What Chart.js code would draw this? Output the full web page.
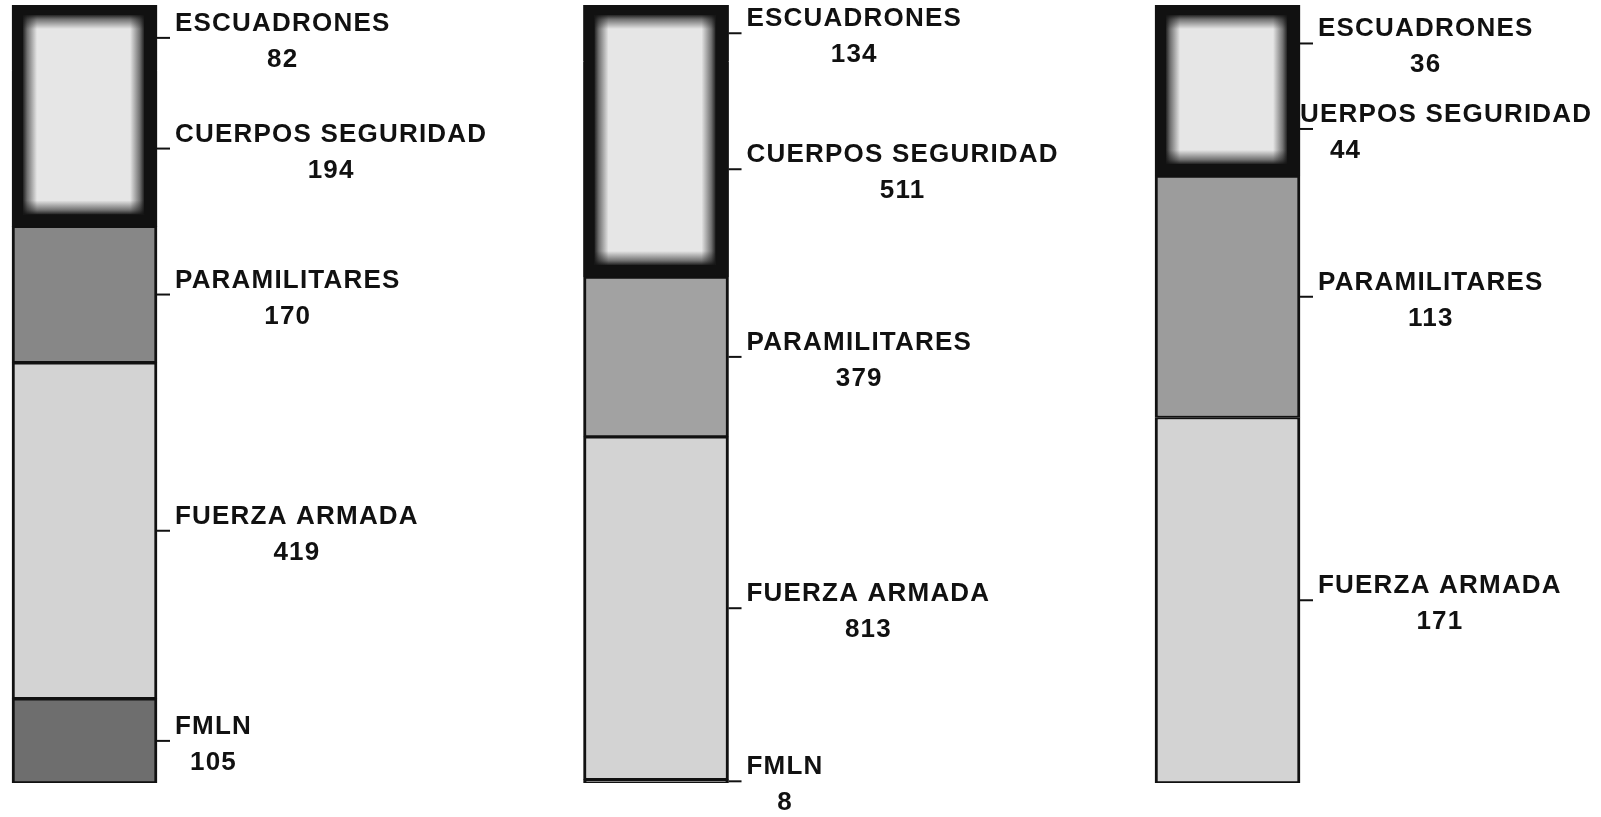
<!DOCTYPE html>
<html>
<head>
<meta charset="utf-8">
<title>Violaciones por responsable</title>
<script src="https://cdn.jsdelivr.net/npm/chart.js@4.4.1/dist/chart.umd.min.js"></script>
<style>
  html, body { margin: 0; padding: 0; background: #fff; }
  #wrap { position: relative; width: 1601px; height: 817px; }
</style>
</head>
<body>
<div id="wrap"><canvas id="stackChart"></canvas></div>
<script>
// one column per period, stacked bottom -> top
const columns = [0, 1, 2];
const seriesNames = ['FMLN', 'FUERZA ARMADA', 'PARAMILITARES', 'CUERPOS SEGURIDAD', 'ESCUADRONES'];
const fmln = [105, 8, null];
const fuerzaArmada = [419, 813, 171];
const paramilitares = [170, 379, 113];
const cuerposSeguridad = [194, 511, 44];
const escuadrones = [82, 134, 36];

const series = [fmln, fuerzaArmada, paramilitares, cuerposSeguridad, escuadrones];
const totals = columns.map(i => series.reduce((s, arr) => s + (arr[i] || 0), 0));
const asPoints = arr => arr.map((v, i) => ({ x: columns[i], y: v == null ? null : v / totals[i] * 100 }));

const INK = '#111';
const BOX_FILL = '#e6e6e6';
const thin = { top: 2, left: 3, right: 3, bottom: 2 };

const fills = [
    '#6e6e6e',
    '#d3d3d3',
    ['#878787', '#a2a2a2', '#9c9c9c'],
    BOX_FILL,
    BOX_FILL
];
const borders = [
    thin,
    thin,
    thin,
    { top: 0, left: 11, right: 13, bottom: 12 },
    { top: 10, left: 11, right: 13, bottom: 0 }
];

// labels sit behind the bars (third column's CUERPOS label is partly hidden)
const labelPlugin = {
    id: 'segmentLabels',
    beforeDatasetsDraw(chart) {
        const ctx = chart.ctx;
        ctx.save();
        ctx.font = 'bold 26px "Liberation Sans", Arial, sans-serif';
        ctx.letterSpacing = '1.2px';
        ctx.fillStyle = INK;
        ctx.strokeStyle = INK;
        ctx.lineWidth = 2;
        ctx.textBaseline = 'alphabetic';
        series.forEach((arr, d) => {
            const meta = chart.getDatasetMeta(d);
            meta.data.forEach((bar, i) => {
                if (arr[i] == null) return;
                const right = bar.x + bar.width / 2;
                const mid = (bar.y + bar.base) / 2;
                ctx.beginPath();
                ctx.moveTo(right, mid);
                ctx.lineTo(right + 13, mid);
                ctx.stroke();

                const name = seriesNames[d];
                const w = ctx.measureText(name).width - 1.2;
                let nx = right + 18;
                let cx = nx + w / 2;
                if (i === 2 && d === 3) { nx = right - 20; cx = right + 45; }
                ctx.textAlign = 'left';
                ctx.fillText(name, nx, mid - 7);
                ctx.textAlign = 'center';
                ctx.fillText(String(arr[i]), cx + 0.6, mid + 29);
            });
        });
        ctx.restore();
    }
};

// soft dark rim inside the CUERPOS + ESCUADRONES box
function shade(ctx, x0, y0, x1, y1, rx, ry, rw, rh) {
    const grad = ctx.createLinearGradient(x0, y0, x1, y1);
    grad.addColorStop(0, 'rgba(17,17,17,1)');
    grad.addColorStop(0.35, 'rgba(17,17,17,0.55)');
    grad.addColorStop(1, 'rgba(17,17,17,0)');
    ctx.fillStyle = grad;
    ctx.fillRect(rx, ry, rw, rh);
}

const boxPlugin = {
    id: 'boxRim',
    afterDatasetsDraw(chart) {
        const ctx = chart.ctx;
        const upper = chart.getDatasetMeta(4).data;
        const lower = chart.getDatasetMeta(3).data;
        const g = 14;
        ctx.save();
        columns.forEach((c, i) => {
            const a = upper[i], b = lower[i];
            const L = a.x - a.width / 2, R = a.x + a.width / 2;
            const T = a.y, B = b.base;
            const l = L + 11, r = R - 13, t = T + 10, btm = B - 12;
            // merge the two stacked segments into one framed box
            ctx.fillStyle = INK;
            ctx.fillRect(L, T, R - L, B - T);
            ctx.fillStyle = BOX_FILL;
            ctx.fillRect(l, t, r - l, btm - t);
            shade(ctx, l - 1, 0, l + g, 0, l - 1, t, g + 1, btm - t);
            shade(ctx, r + 1, 0, r - g, 0, r - g, t, g + 1, btm - t);
            shade(ctx, 0, t - 1, 0, t + g, l, t - 1, r - l, g + 1);
            shade(ctx, 0, btm + 1, 0, btm - g, l, btm - g, r - l, g + 1);
        });
        ctx.restore();
    }
};

new Chart(document.getElementById('stackChart'), {
    type: 'bar',
    data: {
        datasets: series.map((arr, d) => ({
            label: seriesNames[d],
            data: asPoints(arr),
            stack: 'all',
            backgroundColor: fills[d],
            borderColor: INK,
            borderWidth: borders[d],
            borderSkipped: false,
            barThickness: 145
        }))
    },
    options: {
        responsive: true,
        maintainAspectRatio: false,
        animation: false,
        layout: { padding: { top: 5, bottom: 34, left: 0, right: 0 } },
        plugins: {
            legend: { display: false },
            tooltip: { enabled: false }
        },
        scales: {
            x: {
                type: 'linear',
                min: -0.1479,
                max: 2.6535,
                offset: false,
                bounds: 'data',
                display: false
            },
            y: {
                stacked: true,
                min: 0,
                max: 100,
                display: false
            }
        }
    },
    plugins: [labelPlugin, boxPlugin]
});
</script>
</body>
</html>
